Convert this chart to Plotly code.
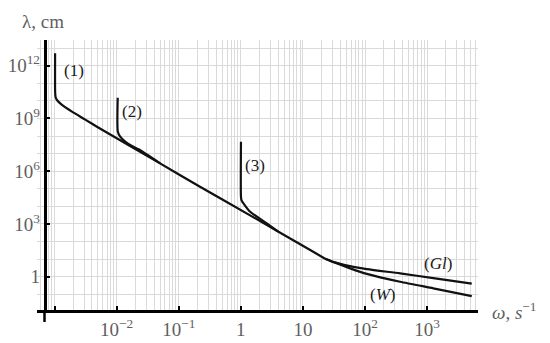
import plotly.graph_objects as go

# ---- data (omega in s^-1, lambda in cm) ----
omega_1 = [1.02e-3, 1.022e-3, 1.04e-3, 1.092e-3, 1.315e-3, 1.905e-3, 3.12e-3, 4.81e-3,
           5.0e-2, 0.22, 1.41, 13.1, 22.8]
lambda_1 = [5.1e12, 3.0e10, 1.6e10, 1.12e10, 5.85e9, 2.43e9, 8.6e8, 3.4e8,
            2.8e6, 1.3e5, 3.1e3, 33.0, 10.6]

omega_2 = [1.04e-2, 1.045e-2, 1.141e-2, 1.374e-2, 1.762e-2, 2.25e-2, 5.03e-2]
lambda_2 = [1.52e10, 1.77e8, 9.2e7, 4.78e7, 2.72e7, 1.77e7, 2.8e6]

omega_3 = [1.005, 1.005, 1.024, 1.102, 1.413, 2.62, 4.0]
lambda_3 = [4.78e7, 3.56e4, 2.3e4, 1.5e4, 4.98e3, 1.09e3, 371.0]

omega_gl = [22.8, 33.0, 47.8, 107.0, 367.0, 1260.0, 5240.0]
lambda_gl = [10.6, 6.6, 4.6, 2.7, 1.56, 0.83, 0.41]

omega_w = [22.8, 33.0, 57.6, 107.0, 367.0, 1260.0, 5240.0]
lambda_w = [10.6, 6.2, 3.0, 1.46, 0.52, 0.22, 0.08]

x_tick_vals = [1e-3, 1e-2, 1e-1, 1, 10, 1e2, 1e3]
x_tick_text = ["", "10<sup>−2</sup>", "10<sup>−1</sup>", "1", "10", "10<sup>2</sup>", "10<sup>3</sup>"]
y_tick_vals = [1, 1e3, 1e6, 1e9, 1e12]
y_tick_text = ["1", "10<sup>3</sup>", "10<sup>6</sup>", "10<sup>9</sup>", "10<sup>12</sup>"]

curve_labels = ["(1)", "(2)", "(3)", "(<i>Gl</i>)", "(<i>W</i>)"]

# ---- layout geometry (page pixels; the page body adds an 8px offset) ----
W, H = 550, 343
OFF = 8
PLOT_X0, PLOT_X1, PLOT_Y0, PLOT_Y1 = 37, 478, 40, 310   # in page pixels
L_M = PLOT_X0 - OFF
T_M = PLOT_Y0 - OFF
R_M = W - (PLOT_X1 - OFF)
B_M = H - (PLOT_Y1 - OFF)
PW = PLOT_X1 - PLOT_X0
PH = PLOT_Y1 - PLOT_Y0


def pxx(x):
    return (x - PLOT_X0) / PW


def pxy(y):
    return (PLOT_Y1 - y) / PH


SERIF = "Liberation Serif"
GRID = "#dadada"
LABEL = "#5f5f5f"

fig = go.Figure()
for xs, ys in [(omega_1, lambda_1), (omega_2, lambda_2), (omega_3, lambda_3),
               (omega_gl, lambda_gl), (omega_w, lambda_w)]:
    fig.add_trace(go.Scatter(
        x=xs, y=ys, mode="lines",
        line=dict(color="#111111", width=2.2, shape="spline", smoothing=0.6),
        hoverinfo="skip", showlegend=False,
    ))

fig.update_layout(
    width=W, height=H,
    margin=dict(l=L_M, r=R_M, t=T_M, b=B_M, autoexpand=False),
    paper_bgcolor="white", plot_bgcolor="white",
    title=dict(text="λ, cm", xref="container", yref="container",
               x=(22 - OFF) / W, y=1 - (21 - OFF) / H,
               xanchor="left", yanchor="middle",
               font=dict(family=SERIF, size=19, color=LABEL)),
    xaxis=dict(
        type="log", range=[-3.283, 3.82], automargin=False,
        tickmode="array", tickvals=x_tick_vals, ticktext=x_tick_text,
        ticks="inside", ticklen=4, tickwidth=1.5, tickcolor="black",
        showline=True, linecolor="black", linewidth=2.5,
        showgrid=True, gridcolor=GRID, gridwidth=1, zeroline=False,
        minor=dict(dtick="D1", showgrid=True, gridcolor=GRID, gridwidth=1, ticks=""),
        tickfont=dict(family=SERIF, size=19, color=LABEL),
    ),
    yaxis=dict(
        type="log", range=[-1.89, 13.46], automargin=False,
        anchor="free", position=pxx(44.5),
        tickmode="array", tickvals=y_tick_vals, ticktext=y_tick_text,
        ticks="inside", ticklen=4, tickwidth=1.5, tickcolor="black",
        showline=True, linecolor="black", linewidth=2.5,
        showgrid=True, gridcolor=GRID, gridwidth=1, zeroline=False,
        minor=dict(dtick=1, showgrid=True, gridcolor=GRID, gridwidth=1, ticks=""),
        tickfont=dict(family=SERIF, size=19, color=LABEL),
    ),
)

# y-axis extension below x-axis
fig.add_shape(type="line", xref="paper", yref="paper",
              x0=pxx(44.5), x1=pxx(44.5), y0=pxy(310), y1=pxy(322),
              line=dict(color="black", width=2.5))

# x-axis title
fig.add_annotation(text="<i>ω</i>, <i>s</i><sup>−1</sup>", xref="paper", yref="paper",
                   x=pxx(490), y=pxy(311), showarrow=False, xanchor="left", yanchor="middle",
                   font=dict(family=SERIF, size=19, color=LABEL))

# curve labels
label_pos = [(74, 70), (131.7, 111.7), (255.3, 165), (437.7, 263.3), (383, 294.3)]
for txt, (lx, ly) in zip(curve_labels, label_pos):
    fig.add_annotation(text=txt, xref="paper", yref="paper", x=pxx(lx), y=pxy(ly),
                       showarrow=False, xanchor="center", yanchor="middle",
                       font=dict(family=SERIF, size=17, color="#1a1a1a"))

fig.write_html("out.html")
